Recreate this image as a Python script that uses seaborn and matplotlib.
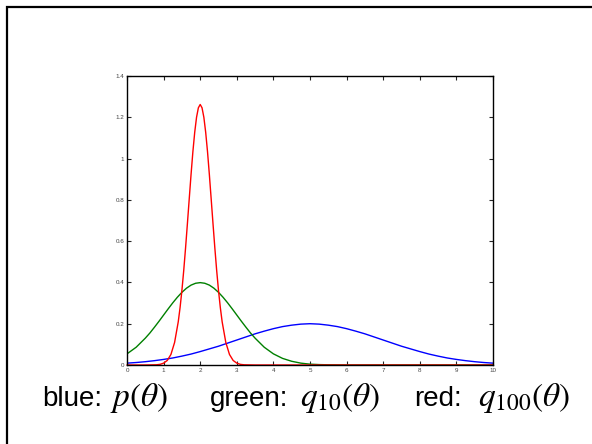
import matplotlib
matplotlib.use('Agg')
import matplotlib.pyplot as plt
import seaborn as sns

# curve samples
theta_blue = [0, 0.25, 0.5, 0.75, 1, 1.25, 1.5, 1.75, 2, 2.25, 2.5, 2.75, 3, 3.25, 3.5,
              3.75, 4, 4.25, 4.5, 4.75, 5, 5.25, 5.5, 5.75, 6, 6.25, 6.5, 6.75, 7,
              7.25, 7.5, 7.75, 8, 8.25, 8.5, 8.75, 9, 9.25, 9.5, 9.75, 10]
p_blue = [0.009, 0.012, 0.016, 0.021, 0.027, 0.034, 0.043, 0.053, 0.065, 0.078, 0.091,
          0.106, 0.121, 0.136, 0.151, 0.164, 0.176, 0.186, 0.193, 0.198, 0.2,
          0.198, 0.193, 0.186, 0.176, 0.164, 0.151, 0.136, 0.121, 0.106, 0.091,
          0.078, 0.065, 0.053, 0.043, 0.034, 0.027, 0.021, 0.016, 0.012, 0.009]

theta_green = [0, 0.25, 0.5, 0.625, 0.75, 0.875, 1, 1.125, 1.25, 1.375, 1.5, 1.625, 1.75,
               1.875, 2, 2.125, 2.25, 2.375, 2.5, 2.625, 2.75, 2.875, 3, 3.125, 3.25,
               3.375, 3.5, 3.75, 4, 4.25, 4.5, 4.75, 5, 5.25, 5.5, 6, 10]
q10_green = [0.054, 0.086, 0.13, 0.155, 0.183, 0.212, 0.242, 0.272, 0.301, 0.328, 0.352,
             0.372, 0.387, 0.396, 0.399, 0.396, 0.387, 0.372, 0.352, 0.328, 0.301, 0.272,
             0.242, 0.212, 0.183, 0.155, 0.13, 0.086, 0.054, 0.032, 0.018, 0.009, 0.004,
             0.002, 0.001, 0, 0]

theta_red = [0, 0.5, 0.8, 0.9, 1.0, 1.1, 1.2, 1.3, 1.4, 1.45, 1.5, 1.55, 1.6, 1.65, 1.7,
             1.75, 1.8, 1.85, 1.9, 1.95, 2.0, 2.05, 2.1, 2.15, 2.2, 2.25, 2.3, 2.35, 2.4,
             2.45, 2.5, 2.55, 2.6, 2.7, 2.8, 2.9, 3.0, 3.1, 3.2, 3.5, 10]
q100_red = [0, 0, 0.001, 0.003, 0.009, 0.022, 0.051, 0.109, 0.209, 0.278, 0.361, 0.458,
            0.567, 0.684, 0.804, 0.923, 1.033, 1.127, 1.2, 1.246, 1.262, 1.246, 1.2, 1.127,
            1.033, 0.923, 0.804, 0.684, 0.567, 0.458, 0.361, 0.278, 0.209, 0.109, 0.051,
            0.022, 0.009, 0.003, 0.001, 0, 0]

x_ticks = [0, 1, 2, 3, 4, 5, 6, 7, 8, 9, 10]
y_ticks = [0, 0.2, 0.4, 0.6, 0.8, 1.0, 1.2, 1.4]
y_tick_labels = ['0', '0.2', '0.4', '0.6', '0.8', '1', '1.2', '1.4']

# caption pieces: (text, left edge in px, is math)
caption_parts = [
    ('blue:', 42, False),
    (r'$p(\theta)$', 110, True),
    ('green:', 210, False),
    (r'$q_{10}(\theta)$', 300, True),
    ('red:', 414, False),
    (r'$q_{100}(\theta)$', 478, True),
]

sns.set_style('white')
plt.rcParams['font.family'] = ['Liberation Sans', 'DejaVu Sans']
plt.rcParams['mathtext.fontset'] = 'stix'

fig = plt.figure(figsize=(5.92, 4.44), dpi=100)
ax = fig.add_axes([127 / 592, 1 - 365 / 444, 366 / 592, 289 / 444])

sns.lineplot(x=theta_blue, y=p_blue, color='blue', lw=1, ax=ax)
sns.lineplot(x=theta_green, y=q10_green, color='green', lw=1, ax=ax)
sns.lineplot(x=theta_red, y=q100_red, color='red', lw=1, ax=ax, clip_on=False)

ax.set_xlim(0, 10)
ax.set_ylim(0, 1.4)
ax.set_xticks(x_ticks)
ax.set_xticklabels([str(t) for t in x_ticks])
ax.set_yticks(y_ticks)
ax.set_yticklabels(y_tick_labels)
ax.tick_params(direction='in', length=3, width=0.8, labelsize=4.5, labelcolor='#444444',
               top=True, right=True, bottom=True, left=True, pad=2)
for side in ax.spines.values():
    side.set_color('black')
    side.set_linewidth(1)

# slide frame
fig.patches.append(plt.Rectangle((7 / 592, -0.05), 1.0, 1 - 7 / 444 + 0.05,
                                 transform=fig.transFigure, fill=False,
                                 edgecolor='black', lw=1.6))

for txt, left, is_math in caption_parts:
    fig.text(left / 592, 1 - 406 / 444, txt, fontsize=24 if is_math else 20,
             color='black', ha='left', va='baseline')

fig.savefig('out.png', dpi=100)
